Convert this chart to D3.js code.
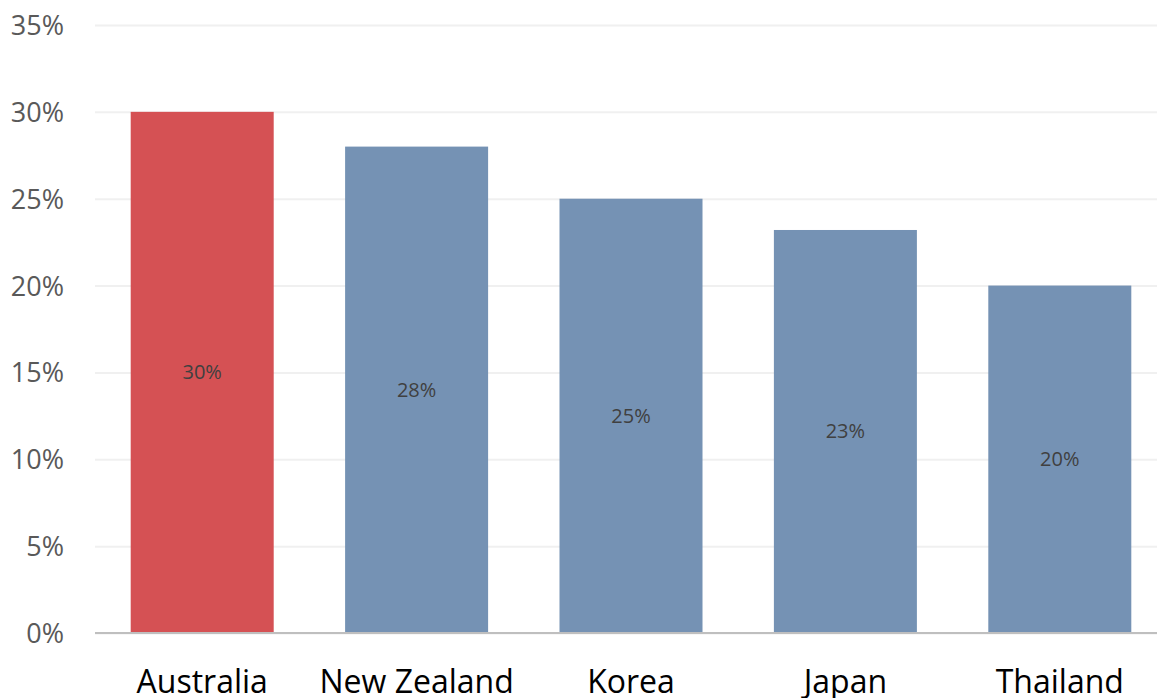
<!DOCTYPE html>
<html>
<head>
<meta charset="utf-8">
<script src="https://cdn.jsdelivr.net/npm/d3@7"></script>
<style>
    body { margin: 0; background: #fff; overflow: hidden; }
    .tick text { font-family: "Open Sans", sans-serif; }
</style>
</head>
<body>
<div id="chart"></div>
<script>
var countries = ["Australia", "New Zealand", "Korea", "Japan", "Thailand"];
var shares = [30, 28, 25, 23.2, 20];
var shareLabels = ["30%", "28%", "25%", "23%", "20%"];
var highlighted = ["Australia"];
var yTicks = [0, 5, 10, 15, 20, 25, 30, 35];

function chart() {
    var w = 1157;
    var h = 698;

    var xScale = d3.scaleBand()
        .domain(countries)
        .range([95, 1167])
        .paddingInner(0.333)
        .paddingOuter(0.1665);

    var yScale = d3.scaleLinear()
        .domain([0, 35])
        .range([633, 25]);

    var svg = d3.select("#chart").append("svg").attr("width", w).attr("height", h);

    var yAxis = d3.axisLeft(yScale)
        .tickValues(yTicks)
        .tickSize(-(w - 95))
        .tickFormat(function(d) { return d + "%"; });

    var gy = svg.append("g")
        .attr("transform", "translate(95,0)")
        .call(yAxis);
    gy.select(".domain").remove();
    gy.selectAll(".tick line")
        .attr("stroke", "#f0f0f0")
        .attr("stroke-width", 2);
    gy.selectAll(".tick text")
        .attr("x", -31)
        .attr("dy", "0.35em")
        .attr("fill", "#595959")
        .style("font-size", "27px");

    // bars slightly see-through so the grid just shows
    svg.selectAll("rect.bar")
        .data(countries)
        .enter()
        .append("rect")
        .attr("class", "bar")
        .attr("x", function(d) { return xScale(d); })
        .attr("width", xScale.bandwidth())
        .attr("y", function(d, i) { return yScale(shares[i]); })
        .attr("height", function(d, i) { return yScale(0) - yScale(shares[i]); })
        .attr("fill", function(d) { return highlighted.indexOf(d) >= 0 ? "#d44b4e" : "#718eb2"; })
        .attr("fill-opacity", 0.97);

    // baseline
    svg.append("line")
        .attr("x1", 95)
        .attr("x2", w)
        .attr("y1", yScale(0))
        .attr("y2", yScale(0))
        .attr("stroke", "#bfbfbf")
        .attr("stroke-width", 2);

    var xAxis = d3.axisBottom(xScale).tickSize(0);
    var gx = svg.append("g")
        .attr("transform", "translate(0," + yScale(0) + ")")
        .call(xAxis);
    gx.select(".domain").remove();
    gx.selectAll(".tick text")
        .attr("y", 60)
        .attr("dy", "0")
        .attr("fill", "#000")
        .style("font-size", "32px");

    // value labels in the middle of each bar
    svg.selectAll("text.val")
        .data(countries)
        .enter()
        .append("text")
        .attr("class", "val")
        .attr("x", function(d) { return xScale(d) + xScale.bandwidth() / 2; })
        .attr("y", function(d, i) { return (yScale(shares[i]) + yScale(0)) / 2; })
        .attr("dy", "0.35em")
        .attr("text-anchor", "middle")
        .attr("fill", "#404040")
        .style("font-family", "Open Sans, sans-serif")
        .style("font-size", "20px")
        .text(function(d, i) { return shareLabels[i]; });
}

window.onload = chart;
</script>
</body>
</html>
